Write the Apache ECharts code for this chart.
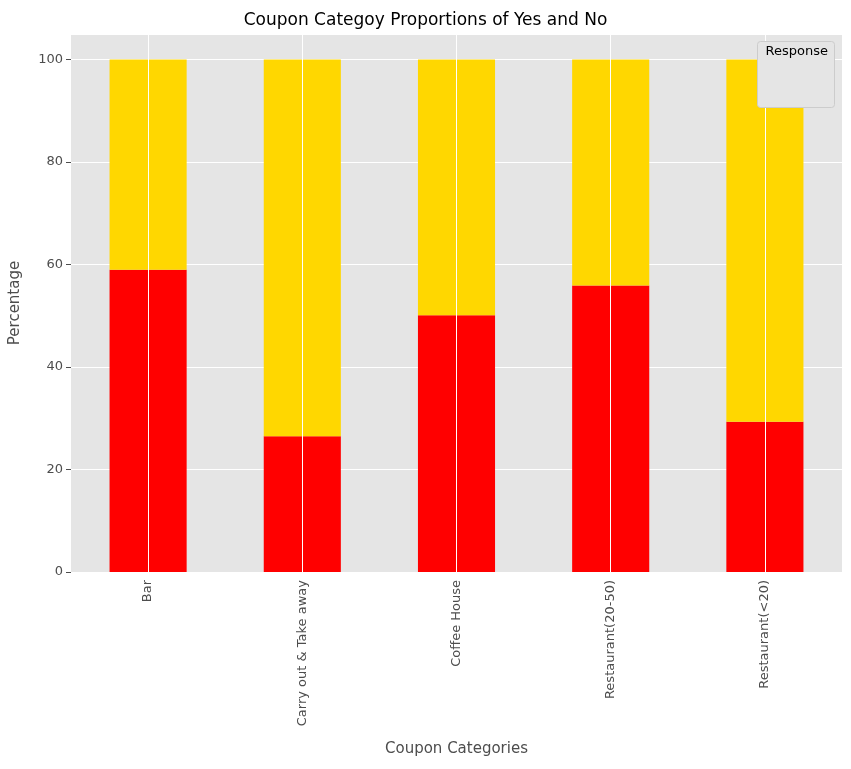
<!DOCTYPE html>
<html><head><meta charset="utf-8">
<script src="https://cdn.jsdelivr.net/npm/echarts@6/dist/echarts.min.js"></script>
<style>html,body{margin:0;padding:0}#c{width:851px;height:769px}</style>
</head><body><div id="c"></div>
<script>
const categories = ["Bar","Carry out & Take away","Coffee House","Restaurant(20-50)","Restaurant(<20)"];
const noValues = [59.0, 26.5, 50.1, 55.9, 29.3];
const yesValues = [41.0, 73.5, 49.9, 44.1, 70.7];
const chart = echarts.init(document.getElementById('c'));
const font = 'DejaVu Sans';
chart.setOption({
  animation:false,
  textStyle:{fontFamily:font},
  title:{text:'Coupon Categoy Proportions of Yes and No',left:'center',top:7,textStyle:{fontSize:17,fontWeight:'normal',color:'#000',fontFamily:font}},
  grid:{left:67,right:9,top:34,bottom:197,show:true,backgroundColor:'#e5e5e5',borderWidth:0},
  legend:{orient:'vertical',right:20,top:64,itemWidth:26,itemHeight:10,itemGap:9,icon:'rect',
    textStyle:{fontSize:13,color:'#000'},data:['No','Yes']},
  graphic:[{type:'rect',right:16,top:41,shape:{width:77,height:66,r:3},style:{fill:'#e5e5e5',stroke:'#cccccc'},z:10},
    {type:'text',right:23,top:45,style:{text:'Response',fontSize:13,fill:'#000',fontFamily:font},z:11}],
  xAxis:{type:'category',data:categories,name:'Coupon Categories',nameLocation:'middle',nameGap:170,
    nameTextStyle:{fontSize:15,color:'#4d4d4d'},
    axisLine:{show:false},axisTick:{alignWithLabel:true,lineStyle:{color:'#4d4d4d'}},
    axisLabel:{rotate:90,fontSize:13,color:'#4d4d4d'},splitLine:{show:false}},
  yAxis:{type:'value',min:0,max:105,interval:20,name:'Percentage',nameLocation:'middle',nameGap:48,
    nameTextStyle:{fontSize:15,color:'#4d4d4d'},
    axisLine:{show:false},axisTick:{show:true,lineStyle:{color:'#4d4d4d'}},
    axisLabel:{fontSize:13,color:'#4d4d4d',showMaxLabel:false},splitLine:{lineStyle:{color:'#fff',width:1}}},
  series:[
    {type:'line',data:[],z:1,silent:true,markLine:{silent:true,symbol:'none',label:{show:false},
      lineStyle:{color:'#fff',type:'solid',width:1},data:categories.map(c=>({xAxis:c}))}},
    {name:'No',type:'bar',stack:'a',data:noValues,barWidth:'50%',itemStyle:{color:'#ff0000'},z:2},
    {name:'Yes',type:'bar',stack:'a',data:yesValues,barWidth:'50%',itemStyle:{color:'#ffd700'},z:2}
  ]
});
</script></body></html>
